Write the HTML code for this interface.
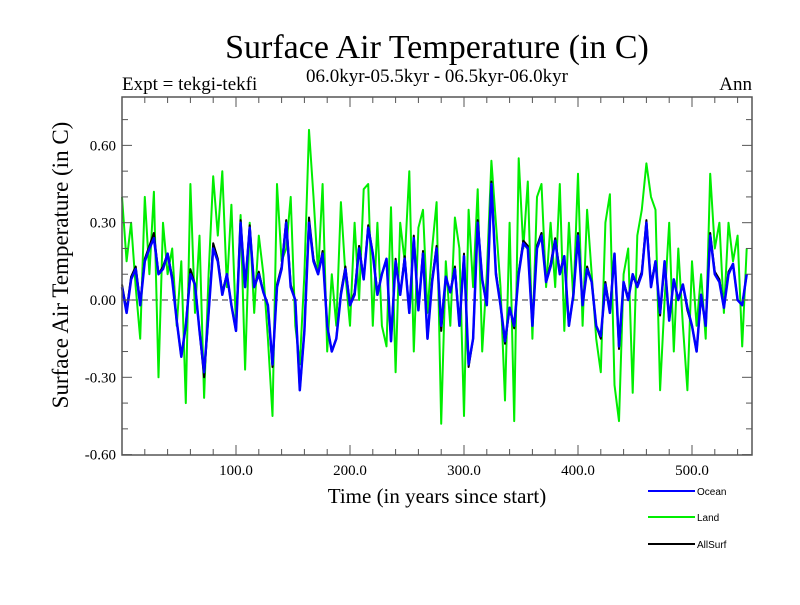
<!DOCTYPE html>
<html><head><meta charset="utf-8"><style>
body{margin:0;background:#fff;}
svg text{font-family:"Liberation Serif",serif;fill:#000;}
</style></head><body>
<svg id="chart" width="800" height="600" xmlns="http://www.w3.org/2000/svg">
<text x="437" y="58" font-size="34" text-anchor="middle">Surface Air Temperature (in C)</text>
<text x="437" y="82" font-size="19" text-anchor="middle">06.0kyr-05.5kyr - 06.5kyr-06.0kyr</text>
<text x="122" y="90" font-size="19">Expt = tekgi-tekfi</text>
<text x="752" y="90" font-size="19" text-anchor="end">Ann</text>
<text x="437" y="503" font-size="21" text-anchor="middle">Time (in years since start)</text>
<text x="0" y="0" font-size="23" text-anchor="middle" transform="translate(68,265) rotate(-90)">Surface Air Temperature (in C)</text>
<g id="plot"></g>
<g>
<line x1="648" y1="491" x2="695" y2="491" stroke="#0000ff" stroke-width="2"/>
<text x="697" y="495" font-size="10" style="font-family:'Liberation Sans',sans-serif">Ocean</text>
<line x1="648" y1="517" x2="695" y2="517" stroke="#00ee00" stroke-width="2"/>
<text x="697" y="521" font-size="10" style="font-family:'Liberation Sans',sans-serif">Land</text>
<line x1="648" y1="544" x2="695" y2="544" stroke="#000" stroke-width="2"/>
<text x="697" y="548" font-size="10" style="font-family:'Liberation Sans',sans-serif">AllSurf</text>
</g>
</svg>
<script>
const yearStep = 4;
const oceanValues = [0.05,-0.05,0.08,0.12,-0.02,0.15,0.2,0.24,0.1,0.12,0.18,0.08,-0.08,-0.22,-0.1,0.1,0.06,-0.12,-0.28,-0.05,0.2,0.15,0.02,0.1,-0.02,-0.12,0.3,0.05,0.28,0.05,0.1,0.03,-0.02,-0.25,0.05,0.12,0.3,0.05,0.0,-0.35,-0.12,0.3,0.15,0.1,0.18,-0.1,-0.2,-0.15,
0.02,0.12,-0.02,0.02,0.2,0.08,0.28,0.18,0.02,0.1,0.16,-0.16,0.15,0.02,0.16,-0.05,0.24,-0.04,0.18,-0.15,0.07,0.2,-0.1,0.09,0.03,0.12,-0.1,0.17,-0.25,-0.15,0.3,0.08,-0.02,0.45,0.1,-0.02,-0.16,-0.03,-0.1,0.1,0.22,0.2,-0.1,0.2,0.25,0.07,
0.13,0.23,0.1,0.17,-0.1,0.02,0.25,-0.02,0.12,0.07,-0.1,-0.14,0.06,-0.05,0.18,-0.18,0.07,0.0,0.1,0.05,0.1,0.3,0.05,0.15,-0.05,0.15,-0.08,0.08,0.0,0.06,-0.03,-0.1,-0.2,0.02,-0.1,0.25,0.1,0.07,-0.03,0.1,0.14,0.0,-0.02,0.1];
const landValues = [0.4,0.15,0.3,0.05,-0.15,0.4,0.1,0.42,-0.3,0.3,0.1,0.2,-0.1,0.15,-0.4,0.45,-0.05,0.25,-0.38,0.1,0.48,0.25,0.5,0.05,0.37,-0.1,0.33,-0.27,0.3,-0.05,0.25,0.1,-0.15,-0.45,0.45,0.15,0.2,0.4,-0.1,-0.25,0.1,0.66,0.4,0.1,0.45,-0.2,0.1,-0.1,
0.38,0.1,-0.1,0.3,0.0,0.43,0.45,-0.1,0.3,-0.1,-0.18,0.36,-0.28,0.3,0.15,0.5,-0.2,0.28,0.35,-0.05,0.2,0.38,-0.48,0.15,-0.1,0.32,0.2,-0.45,0.35,0.05,0.43,-0.2,0.1,0.54,0.3,0.05,-0.39,0.3,-0.47,0.55,0.2,0.46,-0.15,0.4,0.45,0.05,
0.3,0.05,0.45,-0.12,0.3,0.0,0.49,-0.1,0.35,0.1,-0.15,-0.28,0.3,0.41,-0.33,-0.47,0.1,0.2,-0.36,0.25,0.35,0.53,0.4,0.35,-0.35,0.0,0.3,-0.2,0.2,-0.1,-0.35,0.15,-0.1,0.1,-0.15,0.49,0.2,0.3,-0.05,0.3,0.15,0.25,-0.18,0.2];
const allSurfStep = 4;
const allSurfValues = [0.06,-0.04,0.09,0.13,-0.01,0.16,0.21,0.26,0.1,0.13,0.18,0.09,-0.08,-0.22,-0.1,0.12,0.06,-0.12,-0.3,-0.05,0.22,0.16,0.03,0.1,-0.02,-0.12,0.31,0.05,0.29,0.05,0.11,0.03,-0.02,-0.26,0.06,0.13,0.31,0.06,0.0,-0.35,-0.12,0.32,0.16,0.1,0.19,-0.1,-0.2,-0.15,
0.03,0.13,-0.02,0.03,0.21,0.08,0.29,0.18,0.03,0.1,0.16,-0.16,0.16,0.02,0.17,-0.05,0.25,-0.04,0.19,-0.15,0.08,0.21,-0.12,0.09,0.03,0.13,-0.1,0.18,-0.26,-0.15,0.31,0.08,-0.02,0.46,0.11,-0.02,-0.17,-0.03,-0.11,0.11,0.23,0.21,-0.1,0.21,0.26,0.07,
0.14,0.24,0.11,0.17,-0.1,0.02,0.26,-0.02,0.13,0.07,-0.1,-0.15,0.07,-0.04,0.18,-0.19,0.07,0.01,0.09,0.06,0.11,0.31,0.06,0.15,-0.06,0.15,-0.08,0.08,0.0,0.06,-0.04,-0.1,-0.2,0.02,-0.1,0.26,0.11,0.08,-0.03,0.11,0.14,0.0,-0.02,0.1];
const yTicks = [0.6,0.3,0.0,-0.3,-0.6];
const yTickLabels = ["0.60","0.30","0.00","-0.30","-0.60"];
const xTicks = [100,200,300,400,500];
const xTickLabels = ["100.0","200.0","300.0","400.0","500.0"];

const L=122,R=752,T=97,B=455;
const xs = yr => L + yr*1.14;
const ys = v => 300 - v*257.7;
const NS="http://www.w3.org/2000/svg";
const g=document.getElementById('plot');
function mk(tag,attrs){const e=document.createElementNS(NS,tag);for(const k in attrs)e.setAttribute(k,attrs[k]);g.appendChild(e);return e;}

const zl=mk('line',{x1:L,x2:R,y1:ys(0),y2:ys(0),stroke:'#777','stroke-width':1.5,'stroke-dasharray':'6,4'});



function series(vals,step,color,w,name){
  const d=vals.map((v,i)=>(i?'L':'M')+xs(i*step).toFixed(1)+','+ys(v).toFixed(1)).join('');
  const p=mk('path',{d:d,fill:'none',stroke:color,'stroke-width':w,'stroke-linejoin':'round'});
  
  
}
series(landValues,yearStep,'#00ee00',2,'land-series');
series(allSurfValues,allSurfStep,'#000',2,'allsurf-series');
series(oceanValues,yearStep,'#0000ff',2.5,'ocean-series');

const fr=mk('rect',{x:L,y:T,width:R-L,height:B-T,fill:'none',stroke:'#555','stroke-width':1.5});



for(let v=-0.6;v<=0.75;v+=0.1){
  const y=ys(v); const major=Math.abs(Math.round(v*100))%30===0;
  const len=major?10:6;
  const a=mk('line',{x1:L,x2:L+len,y1:y,y2:y,stroke:'#555','stroke-width':1});
  
  
  const b=mk('line',{x1:R,x2:R-len,y1:y,y2:y,stroke:'#555','stroke-width':1});
  
  
}
for(let yr=20;yr<=540;yr+=20){
  const x=xs(yr); const len=(yr%100===0)?10:6;
  const a=mk('line',{x1:x,x2:x,y1:B,y2:B-len,stroke:'#555','stroke-width':1});
  
  
  const b=mk('line',{x1:x,x2:x,y1:T,y2:T+len,stroke:'#555','stroke-width':1});
  
  
}
yTicks.forEach((v,i)=>{
  const t=mk('text',{x:L-6,y:ys(v)+5,'font-size':15,'text-anchor':'end'});
  t.textContent=yTickLabels[i];
  
  
});
xTicks.forEach((v,i)=>{
  const t=mk('text',{x:xs(v),y:B+20,'font-size':15,'text-anchor':'middle'});
  t.textContent=xTickLabels[i];
  
  
});
</script>
</body></html>
